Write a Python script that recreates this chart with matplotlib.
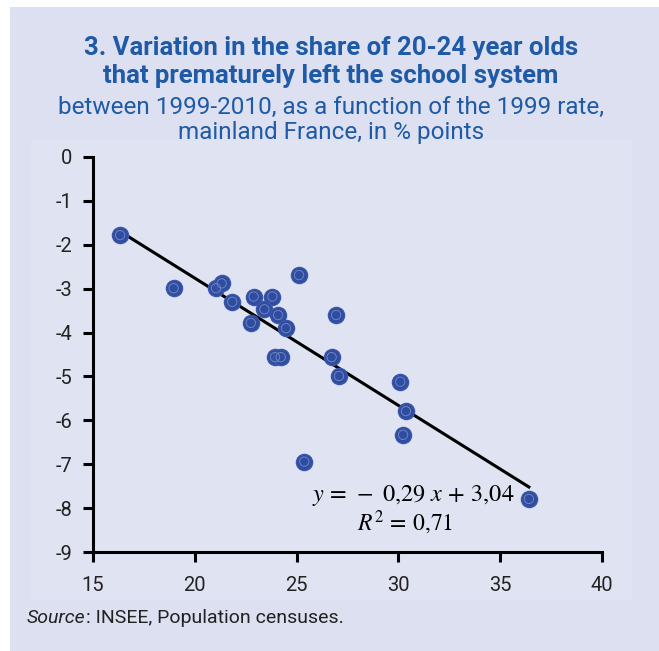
import numpy as np
import matplotlib
matplotlib.use('Agg')
import matplotlib.pyplot as plt
from matplotlib.patches import Rectangle

plt.rcParams['mathtext.fontset'] = 'stix'

# 1999 rate (x) vs change 1999-2010 (y), in % points
rate_1999 = [16.33, 18.96, 21.04, 21.32, 21.84, 22.89, 23.81, 23.42, 24.09,
             22.75, 24.48, 25.12, 26.94, 23.94, 24.22, 26.72, 27.08, 25.38,
             30.09, 30.37, 30.23, 36.41]
change = [-1.78, -2.99, -2.99, -2.88, -3.30, -3.18, -3.18, -3.47, -3.60,
          -3.78, -3.90, -2.69, -3.60, -4.56, -4.56, -4.56, -4.99, -6.94,
          -5.12, -5.79, -6.33, -7.79]
slope = -0.29
intercept = 3.04
x_ticks = [15, 20, 25, 30, 35, 40]
y_ticks = [0, -1, -2, -3, -4, -5, -6, -7, -8, -9]

title = "3. Variation in the share of 20-24 year olds\nthat prematurely left the school system"
subtitle = "between 1999-2010, as a function of the 1999 rate,\nmainland France, in % points"

sans = ['Roboto', 'DejaVu Sans']
blue = '#1f5aa6'
bg = '#dde0f0'

fig = plt.figure(figsize=(6.59, 6.51), dpi=100, facecolor='white')
# outer frame and inner panel
fig.patches.append(Rectangle((10/659, 0), 1, 1 - 7/651, transform=fig.transFigure,
                             facecolor=bg, edgecolor='none', zorder=-2))
fig.patches.append(Rectangle((31/659, 1 - 600/651), (632-31)/659, (600-140)/651,
                             transform=fig.transFigure, facecolor='#e0e3f2',
                             edgecolor='none', zorder=-1))

ax = fig.add_axes([93/659, 1 - 552/651, (602-93)/659, (552-157)/651])
ax.set_facecolor('none')

ax.scatter(rate_1999, change, s=135, color='#2f4ca0', edgecolor='#3a57a8',
           linewidth=1, zorder=3, clip_on=False)
ax.scatter(rate_1999, change, s=45, facecolor='none', edgecolor='#6e84c2',
           linewidth=0.7, zorder=4, clip_on=False)

xs = np.array([min(rate_1999), max(rate_1999)])
ax.plot(xs, slope*xs + intercept, color='black', lw=2.2, zorder=2)

ax.set_xlim(15, 40)
ax.set_ylim(-9, 0)
ax.set_xticks(x_ticks)
ax.set_yticks(y_ticks)
ax.set_yticklabels([str(v) for v in y_ticks])
for s in ['top', 'right']:
    ax.spines[s].set_visible(False)
for s in ['left', 'bottom']:
    ax.spines[s].set_linewidth(2.2)
ax.tick_params(axis='both', direction='out', length=7, width=2.2,
               labelsize=14.5, colors='black')
ax.tick_params(axis='x', pad=10)
ax.tick_params(axis='y', pad=8)
for lab in ax.get_xticklabels() + ax.get_yticklabels():
    lab.set_family(sans)
    lab.set_color('#222222')

fig.text(413/659, 1 - 495/651, r"$y\,=\,-\ 0{,}29\ x\,+\,3{,}04$", ha='center',
         va='center', fontsize=17.5)
fig.text(405/659, 1 - 523/651, r"$R^{2}\,=\,0{,}71$", ha='center',
         va='center', fontsize=17)

fig.text(331/659, 1 - 62/651, title, ha='center', va='center', fontsize=18.5,
         fontweight='bold', color=blue, family=sans, linespacing=1.2)
fig.text(331/659, 1 - 120/651, subtitle, ha='center', va='center', fontsize=17.5,
         color=blue, family=sans, linespacing=1.15)

src = fig.text(27/659, 1 - 618/651, "Source", ha='left', va='center', fontsize=14,
               style='italic', family=sans, color='#222222')
rest = fig.text(0, 1 - 618/651, ": INSEE, Population censuses.",
                ha='left', va='center', fontsize=14, family=sans, color='#222222')

fig.canvas.draw()
bb = src.get_window_extent()
rest.set_position((bb.x1 / fig.bbox.width, 1 - 618/651))

fig.savefig('out.png', dpi=100, facecolor=fig.get_facecolor())
